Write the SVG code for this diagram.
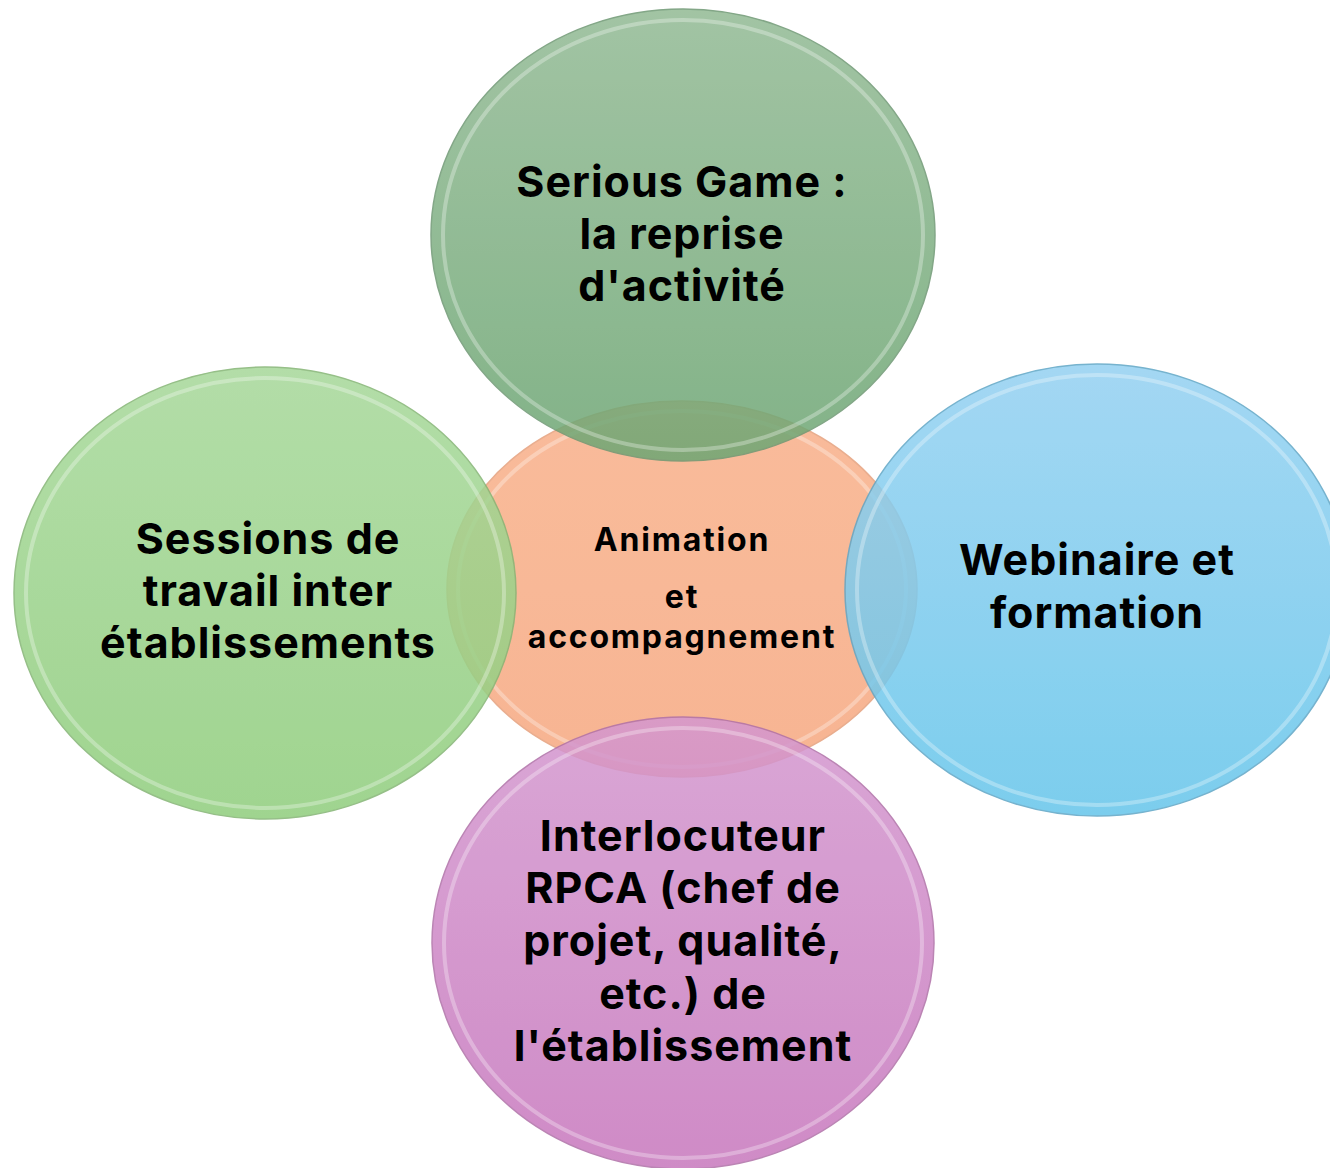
<svg xmlns="http://www.w3.org/2000/svg" width="1330" height="1168" viewBox="0 0 1330 1168">
<style>
.t{font-family:Inter,"Liberation Sans",sans-serif;font-weight:700;fill:#000;text-anchor:middle}
.big{font-size:43px;letter-spacing:1px}
.mid{font-size:32px;letter-spacing:1.8px}
.bub{stroke-width:1.5;opacity:0.85}
.rim{fill:none;stroke:#fff;stroke-width:4;opacity:0.3}
</style>
<defs>
<linearGradient id="gTop" x1="0" y1="0" x2="0" y2="1"><stop offset="0" stop-color="#92ba94"/><stop offset="1" stop-color="#6da673"/></linearGradient>
<linearGradient id="gLeft" x1="0" y1="0" x2="0" y2="1"><stop offset="0" stop-color="#a6d899"/><stop offset="1" stop-color="#8fcd7c"/></linearGradient>
<linearGradient id="gCen" x1="0" y1="0" x2="0" y2="1"><stop offset="0" stop-color="#f8b08a"/><stop offset="1" stop-color="#f6a880"/></linearGradient>
<linearGradient id="gRight" x1="0" y1="0" x2="0" y2="1"><stop offset="0" stop-color="#94d1f1"/><stop offset="1" stop-color="#65c5eb"/></linearGradient>
<linearGradient id="gBot" x1="0" y1="0" x2="0" y2="1"><stop offset="0" stop-color="#d497cf"/><stop offset="1" stop-color="#c777bd"/></linearGradient>
</defs>
<g id="connectors"></g>
<g id="node-center">
<ellipse class="bub" cx="682" cy="589" rx="235" ry="188" fill="url(#gCen)" stroke="#e6a07c"/>
<ellipse class="rim" cx="682" cy="589" rx="224" ry="178"/>
</g>
<g id="node-top">
<ellipse class="bub" cx="683" cy="235" rx="252" ry="226" fill="url(#gTop)" stroke="#6e9873"/>
<ellipse class="rim" cx="683" cy="235" rx="240" ry="215"/>
</g>
<g id="node-right">
<ellipse class="bub" cx="1097" cy="590" rx="252" ry="226" fill="url(#gRight)" stroke="#5fa6c6"/>
<ellipse class="rim" cx="1097" cy="590" rx="240" ry="215"/>
</g>
<g id="node-bottom">
<ellipse class="bub" cx="683" cy="943" rx="251" ry="226" fill="url(#gBot)" stroke="#b070a8"/>
<ellipse class="rim" cx="683" cy="943" rx="239" ry="215"/>
</g>
<g id="node-left">
<ellipse class="bub" cx="265" cy="593" rx="251" ry="226" fill="url(#gLeft)" stroke="#84b574"/>
<ellipse class="rim" cx="265" cy="593" rx="239" ry="215"/>
</g>
<g id="labels">
<text class="t mid" x="682" y="551">Animation</text>
<text class="t mid" x="682" y="608">et</text>
<text class="t mid" x="682" y="648">accompagnement</text>
<text class="t big" x="682" y="197">Serious Game :</text>
<text class="t big" x="682" y="249">la reprise</text>
<text class="t big" x="682" y="301">d'activité</text>
<text class="t big" x="268" y="554">Sessions de</text>
<text class="t big" x="268" y="606">travail inter</text>
<text class="t big" x="268" y="658">établissements</text>
<text class="t big" x="1097" y="575">Webinaire et</text>
<text class="t big" x="1097" y="628">formation</text>
<text class="t big" x="683" y="851">Interlocuteur</text>
<text class="t big" x="683" y="903">RPCA (chef de</text>
<text class="t big" x="683" y="956">projet, qualité,</text>
<text class="t big" x="683" y="1009">etc.) de</text>
<text class="t big" x="683" y="1061">l'établissement</text>
</g>
</svg>
